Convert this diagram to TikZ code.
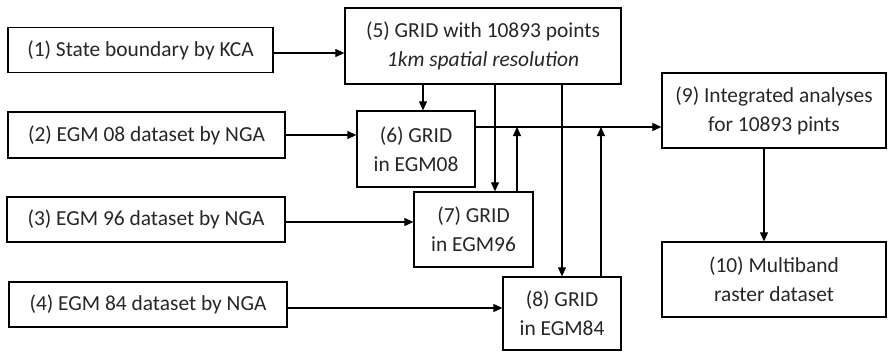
\documentclass[tikz,border=0pt]{standalone}
\usepackage{fontspec}
\setmainfont{Carlito}
\usetikzlibrary{arrows.meta,calc}
\begin{document}
\begin{tikzpicture}[x=1bp,y=-1bp,
  box/.style={draw,line width=1.3bp,inner sep=0pt,align=center,font=\fontsize{21.5}{29}\selectfont,text=black!85},
  arr/.style={line width=1.1bp,-{Triangle[length=9bp,width=8bp]}},
  ln/.style={line width=1.1bp}]
\useasboundingbox (0,0) rectangle (888,352);
\node[box,minimum width=265bp,minimum height=45bp] (b1) at (140.5,50) {(1) State boundary by KCA};
\node[box,minimum width=276bp,minimum height=76bp] (b5) at (483,46) {(5) GRID with 10893 points\\\textit{1km spatial resolution}};
\node[box,minimum width=277bp,minimum height=46bp] (b2) at (146.5,135) {(2) EGM 08 dataset by NGA};
\node[box,minimum width=118bp,minimum height=76bp] (b6) at (416,149) {(6) GRID\\in EGM08};
\node[box,minimum width=278bp,minimum height=45bp] (b3) at (146,219.5) {(3) EGM 96 dataset by NGA};
\node[box,minimum width=119bp,minimum height=75bp] (b7) at (473.5,229.5) {(7) GRID\\in EGM96};
\node[box,minimum width=278bp,minimum height=45bp] (b4) at (148,304.5) {(4) EGM 84 dataset by NGA};
\node[box,minimum width=118bp,minimum height=73bp] (b8) at (562,313.5) {(8) GRID\\in EGM84};
\node[box,minimum width=224bp,minimum height=75bp] (b9) at (774,110.5) {(9) Integrated analyses\\for 10893 pints};
\node[box,minimum width=224bp,minimum height=75bp] (b10) at (774,279.5) {(10) Multiband\\raster dataset};
\coordinate (j7) at (517,127);
\coordinate (j8) at (601,127);
\draw[arr] (b1.east |- 0,53) -- (b5.west |- 0,53);
\draw[arr] (b2.east) -- (b2.east -| b6.west);
\draw[arr] (b3.east |- 0,222) -- (b7.west |- 0,222);
\draw[arr] (b4.east |- 0,308) -- (b8.west |- 0,308);
\draw[arr] (b5.south -| 423,0) -- (b6.north -| 423,0);
\draw[arr] (b5.south -| 495,0) -- (b7.north -| 495,0);
\draw[arr] (b5.south -| 562,0) -- (b8.north -| 562,0);
\draw[arr] (b6.east |- 0,127) -- (b9.west |- 0,127);
\draw[arr] (b7.north -| j7) -- (j7);
\draw[arr] (b8.north -| j8) -- (j8);
\draw[arr] (b9.south -| 764,0) -- (b10.north -| 764,0);
\end{tikzpicture}
\end{document}
